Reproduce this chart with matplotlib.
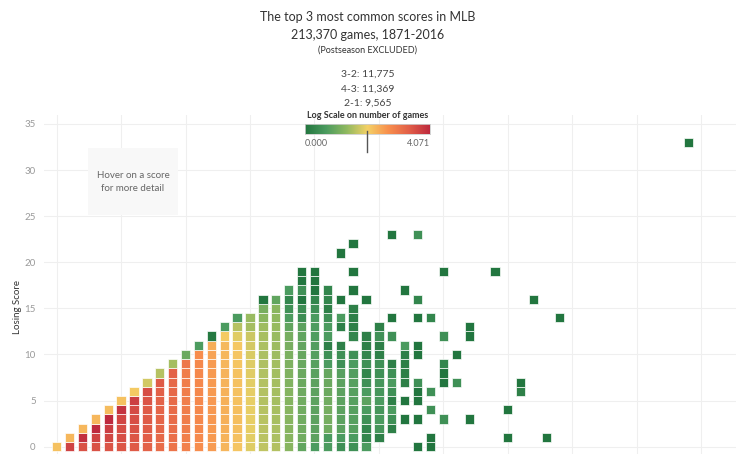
import matplotlib
matplotlib.use("Agg")
import matplotlib.pyplot as plt
import numpy as np
from matplotlib.colors import LinearSegmentedColormap, Normalize
from matplotlib.patches import Rectangle

# log10(number of games) for each winning score (index) and losing score (position in list)
# None = no game with that score
log_games = [
    [2.2],
    [3.75, 2.3],
    [3.55, 3.98, 2.3],
    [3.55, 3.75, 4.07, 2.3],
    [3.52, 3.7, 3.82, 4.06, 2.25],
    [3.5, 3.6, 3.62, 3.72, 3.95, 2.2],
    [3.45, 3.5, 3.55, 3.6, 3.65, 3.8, 2.1],
    [3.35, 3.4, 3.42, 3.45, 3.45, 3.52, 3.62, 1.8],
    [3.2, 3.25, 3.28, 3.3, 3.3, 3.35, 3.38, 3.45, 1.62],
    [3.1, 3.15, 3.18, 3.2, 3.2, 3.22, 3.25, 3.25, 3.35, 1.5],
    [2.9, 2.92, 2.95, 2.95, 2.95, 2.95, 2.95, 2.95, 2.95, 3.05, 1.0],
    [2.75, 2.78, 2.8, 2.8, 2.8, 2.8, 2.8, 2.8, 2.8, 2.8, 2.75, 0.7],
    [2.58, 2.6, 2.6, 2.62, 2.62, 2.62, 2.6, 2.6, 2.6, 2.58, 2.5, 2.4, 0.05],
    [2.32, 2.35, 2.38, 2.38, 2.38, 2.38, 2.36, 2.35, 2.34, 2.32, 2.3, 2.28, 2.1, 0.68],
    [2.15, 2.2, 2.22, 2.22, 2.22, 2.2, 2.2, 2.2, 2.18, 2.15, 2.15, 2.12, 1.9, 1.62, 0.68],
    [1.88, 1.92, 1.95, 1.95, 1.95, 1.95, 1.93, 1.92, 1.9, 1.88, 1.85, 1.82, 1.75, 1.5, 1.42],
    [1.68, 1.65, 1.65, 1.63, 1.62, 1.6, 1.6, 1.6, 1.58, 1.57, 1.55, 1.55, 1.52, 1.45, 1.3, 1.12, 0.0],
    [1.6, 1.55, 1.55, 1.52, 1.52, 1.5, 1.5, 1.5, 1.48, 1.48, 1.45, 1.45, 1.42, 1.4, 1.36, 1.3, 0.9],
    [1.28, 1.28, 1.28, 1.28, 1.28, 1.25, 1.25, 1.22, 1.2, 1.18, 1.15, 1.12, 1.1, 0.9, 0.7, 0.5, 0.3, 0.68],
    [0.9, 1.05, 1.05, 1.05, 1.05, 1.05, 1.02, 1.0, 1.0, 0.98, 0.95, 0.92, 0.9, 0.85, 0.45, 0.45, 0.0, 0.48, 0.0, 0.0],
    [0.68, 0.85, 0.85, 0.85, 0.85, 0.85, 0.85, 0.85, 0.82, 0.8, 0.78, 0.75, 0.72, 0.7, 0.68, 0.48, 0.3, 0.0, 0.0, 0.0],
    [0.68, 0.68, 1.05, 1.1, 1.1, 1.05, 1.0, 1.0, 0.95, 0.68, 0.48, 0.2, 0.68, 0.68, 0.48, 0.2, 0.3, 0.3],
    [0.48, 0.68, 0.85, 0.85, 0.85, 0.85, 0.85, 0.85, 0.8, 0.48, 0.48, 0.2, None, 0.2, 0.68, None, 0.0,
     None, None, None, None, 0.0],
    [0.48, 0.68, 0.8, 0.8, 0.8, 0.8, 0.8, 0.8, 0.75, 0.68, 0.48, None, 0.3, 0.2, 0.2, 0.2, None, 0.0,
     None, 0.0, None, None, 0.0],
    [0.68, 0.3, 0.3, 0.48, 0.68, 0.85, 0.68, 0.48, 0.3, 0.48, 0.3, 0.2, 0.2, None, None, None, 0.0],
    [None, 0.2, 0.6, 0.68, 0.6, 0.68, 0.6, 0.6, 0.48, 0.48, 0.2, 0.2, 0.48, 0.2],
    [None, None, 0.2, 0.48, 0.68, 0.2, 0.48, 0.68, 0.48, 0.2, None, None, 0.48, None, 0.0,
     None, None, None, None, None, None, None, None, 0.0],
    [None, None, None, 0.0, None, 0.0, None, 0.2, 0.2, 0.2, 0.2, 0.68, None, None, None, None, None, 0.0],
    [0.0, None, None, 0.0, None, 0.0, 0.0, 0.48, None, None, 0.0, 0.0, None, None, 0.0, None, 0.3,
     None, None, None, None, None, None, 0.48],
    [0.0, 0.0, None, None, 0.48, None, 0.48, None, None, None, None, None, None, None, 0.3],
    [None, None, None, 0.48, None, None, None, 0.0, 0.0, 0.3, None, None, 0.48,
     None, None, None, None, None, None, 0.0],
]

# scores with a single (or very few) games further out
far_win = [31, 31, 32, 32, 32, 34, 35, 35, 36, 36, 37, 38, 39, 49]
far_lose = [10, 7, 13, 12, 3, 19, 4, 1, 7, 6, 16, 1, 14, 33]
far_log = [0.0, 0.48, 0.0, 0.0, 0.0, 0.0, 0.0, 0.0, 0.0, 0.2, 0.0, 0.0, 0.0, 0.0]

top_scores = ["3-2: 11,775", "4-3: 11,369", "2-1: 9,565"]
log_max = 4.071
palette = ['#22763f', '#4b9b5f', '#90b960', '#f4d166', '#f88f4d', '#e25f48', '#be2a3e']

plt.rcParams['font.family'] = ['Lato', 'DejaVu Sans']

W, H = 736, 454
fig = plt.figure(figsize=(W / 100, H / 100), dpi=100)
fig.patch.set_facecolor('white')


def fy(px):
    return 1 - px / H


ax = fig.add_axes([44 / W, 0, 1 - 44 / W, fy(115)])
cmap = LinearSegmentedColormap.from_list('rgg', palette)
norm = Normalize(0, log_max)

xs, ys, vs = [], [], []
for w, col in enumerate(log_games):
    for l, v in enumerate(col):
        if v is not None:
            xs.append(w)
            ys.append(l)
            vs.append(v)
xs += far_win
ys += far_lose
vs += far_log

ax.bar(xs, 1.0, bottom=np.array(ys) - 0.5, width=0.72,
       color=cmap(norm(np.array(vs))), edgecolor='#ffffffcc', linewidth=0.6, zorder=3)

ax.set_xlim(-0.98, 52.7)
ax.set_ylim(-0.79, 35.97)
for s in ax.spines.values():
    s.set_visible(False)
ax.set_xticks(range(0, 55, 5))
ax.set_xticklabels([])
ax.set_yticks(range(0, 40, 5))
ax.tick_params(length=0, labelsize=7, labelcolor='#9a9a9a', pad=6)
ax.grid(True, color='#efefef', linewidth=0.8, zorder=0)
ax.set_axisbelow(True)

fig.text(17 / W, fy(307), "Losing Score", rotation=90, ha='center', va='center',
         fontsize=7, color='#333333')

# titles
fig.text(0.5, fy(17), "The top 3 most common scores in MLB", ha='center', va='center',
         fontsize=9, color='#333333')
fig.text(0.5, fy(35), "213,370 games, 1871-2016", ha='center', va='center',
         fontsize=9, color='#333333')
fig.text(0.5, fy(50), "(Postseason EXCLUDED)", ha='center', va='center',
         fontsize=6.5, color='#333333')
for i, t in enumerate(top_scores):
    fig.text(0.5, fy(74 + 14.7 * i), t, ha='center', va='center', fontsize=7.5, color='#444444')
fig.text(0.5, fy(115), "Log Scale on number of games", ha='center', va='center',
         fontsize=6.5, fontweight='bold', color='#333333')

# colour legend
cax = fig.add_axes([305 / W, fy(134), 125 / W, 10 / H])
cax.imshow(np.linspace(0, 1, 256)[None, :], aspect='auto', cmap=cmap)
cax.set_xticks([])
cax.set_yticks([])
for s in cax.spines.values():
    s.set_color('#cccccc')
    s.set_linewidth(0.6)
fig.text(305 / W, fy(143), "0.000", ha='left', va='center', fontsize=6.5, color='#666666')
fig.text(430 / W, fy(143), "4.071", ha='right', va='center', fontsize=6.5, color='#666666')
fig.add_artist(plt.Line2D([367 / W, 367 / W], [fy(131), fy(152)], color='#555555', linewidth=1))

# hover hint box
fig.add_artist(Rectangle((88 / W, fy(215)), 90 / W, 67 / H, transform=fig.transFigure,
                         facecolor='#f8f8f8', edgecolor='none', zorder=1))
fig.text(133 / W, fy(182), "Hover on a score\nfor more detail", ha='center', va='center',
         fontsize=7, color='#666666', linespacing=1.5, zorder=2)

fig.savefig('out.png', dpi=100)
